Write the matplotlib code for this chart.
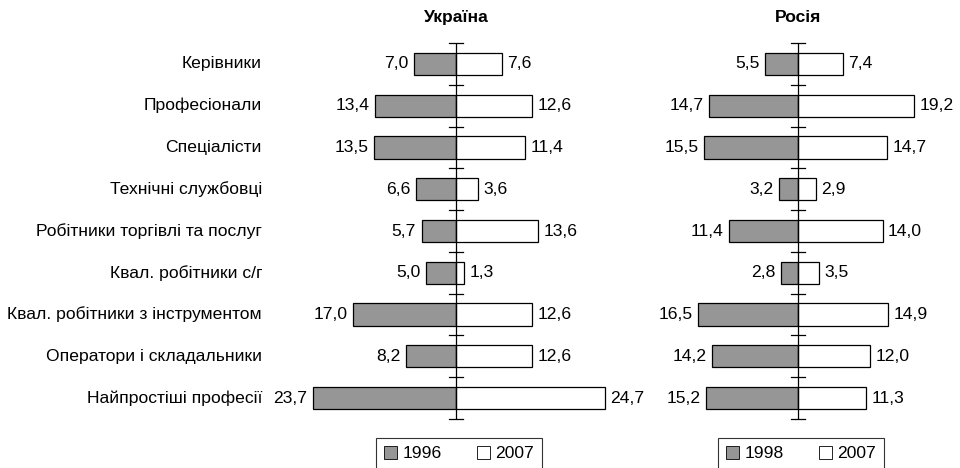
import matplotlib
matplotlib.use("Agg")
import matplotlib.pyplot as plt
from matplotlib.patches import Patch

plt.rcParams['font.family'] = ['Liberation Sans', 'DejaVu Sans']

categories = ["Керівники", "Професіонали", "Спеціалісти", "Технічні службовці",
              "Робітники торгівлі та послуг", "Квал. робітники с/г",
              "Квал. робітники з інструментом", "Оператори і складальники",
              "Найпростіші професії"]
ua_1996 = [7.0, 13.4, 13.5, 6.6, 5.7, 5.0, 17.0, 8.2, 23.7]
ua_2007 = [7.6, 12.6, 11.4, 3.6, 13.6, 1.3, 12.6, 12.6, 24.7]
ru_1998 = [5.5, 14.7, 15.5, 3.2, 11.4, 2.8, 16.5, 14.2, 15.2]
ru_2007 = [7.4, 19.2, 14.7, 2.9, 14.0, 3.5, 14.9, 12.0, 11.3]
titles = ["Україна", "Росія"]
legend_labels = [["1996", "2007"], ["1998", "2007"]]

W, H = 960, 468
fig = plt.figure(figsize=(W/100, H/100), dpi=100)
scale = 6.04  # px per unit
top_px, bot_px = 43, 419
GRAY = "#969696"
FS = 12.6

def fmt(v):
    return f"{v:.1f}".replace(".", ",")

panels = [
    (300, 620, 456, ua_1996, ua_2007, True),
    (660, 950, 798, ru_1998, ru_2007, False),
]
n = len(categories)
for i, (lpx, rpx, cpx, left, right, show_labels) in enumerate(panels):
    ax = fig.add_axes([lpx/W, (H-bot_px)/H, (rpx-lpx)/W, (bot_px-top_px)/H])
    ax.set_xlim(-(cpx-lpx)/scale, (rpx-cpx)/scale)
    ax.set_ylim(n-0.5, -0.5)
    y = list(range(n))
    ax.barh(y, [-v for v in left], height=0.53, color=GRAY, edgecolor="black", linewidth=0.9, zorder=2)
    ax.barh(y, right, height=0.53, color="white", edgecolor="black", linewidth=0.9, zorder=2)
    ax.axvline(0, color="black", linewidth=0.9, zorder=3)
    for b in range(n+1):
        ax.plot([-1.2, 1.2], [b-0.5, b-0.5], color="black", linewidth=0.9, zorder=3, clip_on=False)
    for k in range(n):
        ax.text(-left[k]-0.9, k, fmt(left[k]), ha="right", va="center", fontsize=FS)
        ax.text(right[k]+0.9, k, fmt(right[k]), ha="left", va="center", fontsize=FS)
    ax.axis("off")
    ax.text(0, -0.5 - 26/41.8, titles[i], ha="center", va="center", fontsize=FS, fontweight="bold")
    if show_labels:
        for k in range(n):
            fig.text(262/W, 1 - (top_px + (k+0.5)*(bot_px-top_px)/n)/H, categories[k],
                     ha="right", va="center", fontsize=FS)
    handles = [Patch(facecolor=GRAY, edgecolor="black", linewidth=0.6, label=legend_labels[i][0]),
               Patch(facecolor="white", edgecolor="black", linewidth=0.6, label=legend_labels[i][1])]
    leg = fig.legend(handles=handles, loc="upper center", bbox_to_anchor=((cpx+3)/W, 1-438/H),
                     ncol=2, fontsize=FS, frameon=True, fancybox=False, handlelength=0.75,
                     handleheight=0.75, handletextpad=0.3, columnspacing=2.0, borderpad=0.45,
                     borderaxespad=0)
    leg.get_frame().set_edgecolor("black")
    leg.get_frame().set_linewidth(0.8)

fig.savefig("out.png", dpi=100)
